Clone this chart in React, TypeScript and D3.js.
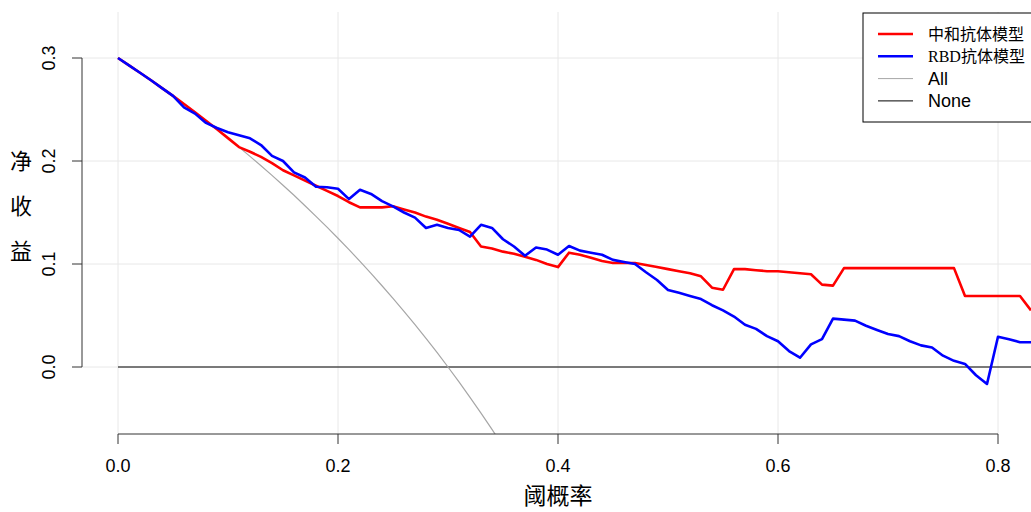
import React from "react";
import * as d3 from "d3";

// Decision curve: net benefit against threshold probability (step 0.01)
const thresholdStep = 0.01;

const neutralizingModel = [
  0.3, 0.2929, 0.2857, 0.2784, 0.2708, 0.2632, 0.2553, 0.2473, 0.2391, 0.2308,
  0.2222, 0.2135, 0.209, 0.204, 0.198, 0.191, 0.186, 0.181, 0.176, 0.171,
  0.166, 0.16, 0.155, 0.155, 0.155, 0.156, 0.153, 0.15, 0.146, 0.143,
  0.139, 0.135, 0.131, 0.117, 0.115, 0.112, 0.11, 0.107, 0.104, 0.1,
  0.097, 0.111, 0.109, 0.106, 0.103, 0.101, 0.101, 0.101, 0.099, 0.097,
  0.095, 0.093, 0.091, 0.088, 0.077, 0.075, 0.095, 0.095, 0.094, 0.093,
  0.093, 0.092, 0.091, 0.09, 0.08, 0.079, 0.096, 0.096, 0.096, 0.096,
  0.096, 0.096, 0.096, 0.096, 0.096, 0.096, 0.096, 0.069, 0.069, 0.069,
  0.069, 0.069, 0.069, 0.055,
];

const rbdModel = [
  0.3, 0.2929, 0.2857, 0.2784, 0.2708, 0.2632, 0.252, 0.246, 0.237, 0.232,
  0.228, 0.225, 0.222, 0.2155, 0.205, 0.2, 0.189, 0.184, 0.175, 0.1745,
  0.173, 0.163, 0.172, 0.168, 0.161, 0.156, 0.15, 0.145, 0.135, 0.138,
  0.135, 0.133, 0.1265, 0.138, 0.135, 0.124, 0.117, 0.108, 0.116, 0.114,
  0.109, 0.1175, 0.113, 0.111, 0.109, 0.104, 0.102, 0.1, 0.092, 0.0845,
  0.0748, 0.072, 0.069, 0.066, 0.06, 0.055, 0.049, 0.041, 0.037, 0.03,
  0.025, 0.0155, 0.009, 0.022, 0.027, 0.047, 0.046, 0.045, 0.04, 0.036,
  0.032, 0.03, 0.025, 0.021, 0.019, 0.011, 0.006, 0.003, -0.008, -0.0165,
  0.0294, 0.027, 0.024, 0.024,
];

const treatAll = [
  0.3, 0.2929, 0.2857, 0.2784, 0.2708, 0.2632, 0.2553, 0.2473, 0.2391, 0.2308,
  0.2222, 0.2135, 0.2045, 0.1954, 0.186, 0.1765, 0.1667, 0.1566, 0.1463, 0.1358,
  0.125, 0.1139, 0.1026, 0.0909, 0.0789, 0.0667, 0.0541, 0.0411, 0.0278, 0.0141,
  0.0, -0.0145, -0.0294, -0.0448, -0.0606, -0.0769,
];

const treatNone = [0, 0];
const treatNoneRange = [0, 0.83];

const xTicks = [0, 0.2, 0.4, 0.6, 0.8];
const yTicks = [0, 0.1, 0.2, 0.3];

const legendItems = [
  { label: "中和抗体模型", color: "#ff0000", width: 2.5, font: "'Noto Sans CJK SC', sans-serif" },
  { label: "RBD抗体模型", color: "#0000ff", width: 2.5, font: "'Liberation Serif', 'Noto Sans CJK SC', serif" },
  { label: "All", color: "#a6a6a6", width: 1, font: "'Liberation Sans', Arial, sans-serif" },
  { label: "None", color: "#000000", width: 1, font: "'Liberation Sans', Arial, sans-serif" },
];

const W = 1031;
const H = 512;
const plot = { left: 82, right: 1060, top: 12, bottom: 434 };

export default function App() {
  const x = d3.scaleLinear().domain([0, 0.8]).range([118, 998]);
  const y = d3.scaleLinear().domain([0, 0.3]).range([367, 58]);

  const line = d3
    .line<number>()
    .x((_, i) => x(i * thresholdStep))
    .y((d) => y(d));

  const noneLine = d3
    .line<number>()
    .x((_, i) => x(treatNoneRange[i]))
    .y((d) => y(d));

  const sans = "'Liberation Sans', Arial, sans-serif";
  const cjk = "'Noto Sans CJK SC', sans-serif";

  return (
    <svg
      width={W}
      height={H}
      style={{ position: "absolute", left: 0, top: 0, background: "#fff" }}
    >
      <defs>
        <clipPath id="plotArea">
          <rect
            x={plot.left}
            y={plot.top}
            width={plot.right - plot.left}
            height={plot.bottom - plot.top}
          />
        </clipPath>
      </defs>
      <rect x={0} y={0} width={W} height={H} fill="#fff" />

      {/* grid */}
      <g stroke="#e8e8e8" strokeWidth={1}>
        {xTicks.map((t) => (
          <line key={"gx" + t} x1={x(t)} x2={x(t)} y1={plot.top} y2={plot.bottom} />
        ))}
        {yTicks.map((t) => (
          <line key={"gy" + t} x1={plot.left} x2={plot.right} y1={y(t)} y2={y(t)} />
        ))}
      </g>

      {/* curves */}
      <g clipPath="url(#plotArea)" fill="none" strokeLinejoin="round">
        <path d={noneLine(treatNone) || ""} stroke="#000" strokeWidth={1} />
        <path d={line(treatAll) || ""} stroke="#a6a6a6" strokeWidth={1.2} />
        <path d={line(neutralizingModel) || ""} stroke="#ff0000" strokeWidth={2.6} />
        <path d={line(rbdModel) || ""} stroke="#0000ff" strokeWidth={2.6} />
      </g>

      {/* x axis */}
      <g stroke="#333" strokeWidth={1}>
        <line x1={x(0)} x2={x(0.8)} y1={plot.bottom} y2={plot.bottom} />
        {xTicks.map((t) => (
          <line key={"tx" + t} x1={x(t)} x2={x(t)} y1={plot.bottom} y2={plot.bottom + 10} />
        ))}
      </g>
      {xTicks.map((t) => (
        <text
          key={"lx" + t}
          x={x(t)}
          y={472}
          textAnchor="middle"
          fontFamily={sans}
          fontSize={18}
          fill="#000"
        >
          {d3.format(".1f")(t)}
        </text>
      ))}
      <text x={558} y={504} textAnchor="middle" fontFamily={cjk} fontSize={23} fill="#000">
        阈概率
      </text>

      {/* y axis */}
      <g stroke="#333" strokeWidth={1}>
        <line x1={plot.left} x2={plot.left} y1={y(0.3)} y2={y(0)} />
        {yTicks.map((t) => (
          <line key={"ty" + t} x1={plot.left - 10} x2={plot.left} y1={y(t)} y2={y(t)} />
        ))}
      </g>
      {yTicks.map((t) => (
        <text
          key={"ly" + t}
          transform={`translate(${55},${y(t)}) rotate(-90)`}
          textAnchor="middle"
          fontFamily={sans}
          fontSize={18}
          fill="#000"
        >
          {d3.format(".1f")(t)}
        </text>
      ))}
      {["净", "收", "益"].map((c, i) => (
        <text
          key={c}
          x={21}
          y={169 + i * 45}
          textAnchor="middle"
          fontFamily={cjk}
          fontSize={22}
          fill="#000"
        >
          {c}
        </text>
      ))}

      {/* legend */}
      <rect x={863} y={13} width={200} height={109} fill="#fff" stroke="#000" strokeWidth={1} />
      {legendItems.map((it, i) => (
        <g key={it.label} transform={`translate(0,${34 + i * 22.3})`}>
          <line x1={878} x2={913} y1={0} y2={0} stroke={it.color} strokeWidth={it.width} />
          <text x={928} y={6} fontFamily={it.font} fontSize={i < 2 ? 16 : 18} fill="#000">
            {it.label}
          </text>
        </g>
      ))}
    </svg>
  );
}
